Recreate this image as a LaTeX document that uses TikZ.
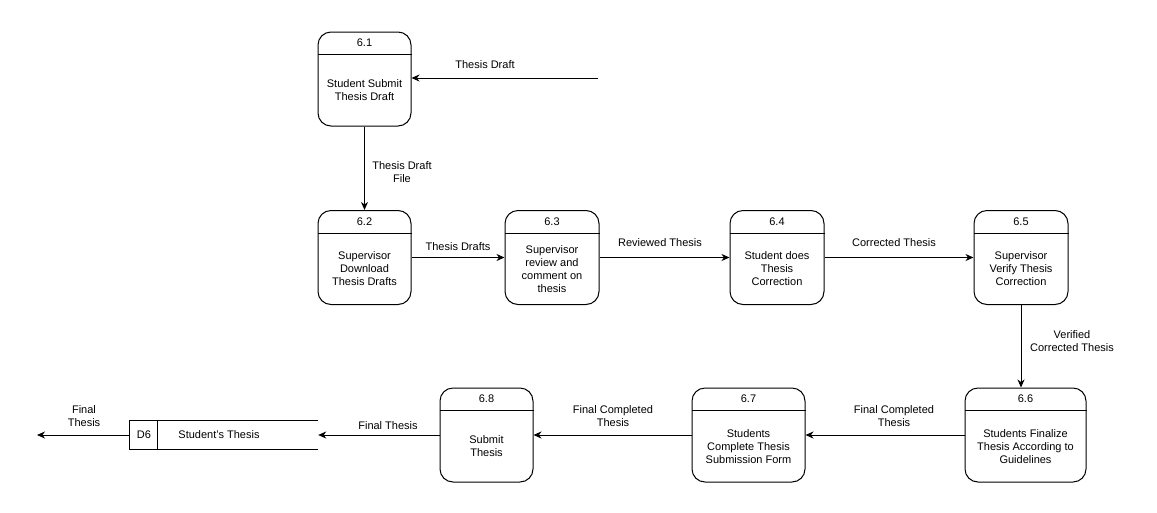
\documentclass[tikz,border=0pt]{standalone}
\usepackage{fontspec}
\setmainfont{Liberation Sans}
\usetikzlibrary{arrows.meta}

\tikzset{
    process/.style={draw, rectangle, rounded corners=13pt, line width=1pt, minimum height=94pt, inner sep=0pt},
    txt/.style={align=center, font=\fontsize{11}{13}\selectfont, inner sep=1pt},
    flow/.style={draw, line width=1pt, -{Stealth[length=8pt, width=7pt, inset=2.5pt]}}
}

\begin{document}
\begin{tikzpicture}[x=1pt, y=-1pt]

    \useasboundingbox (0, 0) rectangle (1157, 512);

    % Processes
    \foreach \id/\cx/\cy/\bw/\body in {
        1/364.5/79/93/{Student Submit\\Thesis Draft},
        2/364.5/257.5/93/{Supervisor\\Download\\Thesis Drafts},
        3/552/257.5/94/{Supervisor\\review and\\comment on\\thesis},
        4/777/257.5/94/{Student does\\Thesis\\Correction},
        5/1021/257.5/94/{Supervisor\\Verify Thesis\\Correction},
        6/1025.5/435/121/{Students Finalize\\Thesis According to\\Guidelines},
        7/748.5/435/113/{Students\\Complete Thesis\\Submission Form},
        8/486.5/435/93/{Submit\\Thesis}} {
        \node at (\cx, \cy) (p\id) [process, minimum width=\bw pt] {};
        \draw[line width=1pt] ([yshift=-23pt]p\id.north west) -- ([yshift=-23pt]p\id.north east);
        \node at ([yshift=-11.5pt]p\id.north) (p\id num) [txt] {6.\id};
        \node at ([yshift=-11.5pt]p\id.center) (p\id body) [txt] {\body};
    }

    % Data store
    \node at (224, 435) (d6) [minimum width=188pt, minimum height=28pt, inner sep=0pt] {};
    \node at (144, 435) (d6id) [txt] {D6};
    \node at (219, 435) (d6name) [txt] {Student's Thesis};
    \draw[line width=1pt] (d6.north east) -- (d6.north west) -- (d6.south west) -- (d6.south east);
    \draw[line width=1pt] ([xshift=28pt]d6.north west) -- ([xshift=28pt]d6.south west);

    % Free ends
    \coordinate (src) at (598, 78);
    \coordinate (sink) at (37, 435);

    % Arrows
    \draw[flow] (src) -- (src -| p1.east);
    \draw[flow] (p1) -- (p2);
    \draw[flow] (p2) -- (p3);
    \draw[flow] (p3) -- (p4);
    \draw[flow] (p4) -- (p5);
    \draw[flow] (p5.south) -- (p5.south |- p6.north);
    \draw[flow] (p6) -- (p7);
    \draw[flow] (p7) -- (p8);
    \draw[flow] (p8.west) -- (d6.east);
    \draw[flow] (d6.west) -- (sink);

    % Labels
    \node at (485, 65) (l1) [txt] {Thesis Draft};
    \node at (402, 172.5) (l2) [txt] {Thesis Draft\\File};
    \node at (458, 247) (l3) [txt] {Thesis Drafts};
    \node at (660, 243) (l4) [txt] {Reviewed Thesis};
    \node at (894, 243) (l5) [txt] {Corrected Thesis};
    \node at (1072, 341.5) (l6) [txt] {Verified\\Corrected Thesis};
    \node at (894, 416.5) (l7) [txt] {Final Completed\\Thesis};
    \node at (613, 416.5) (l8) [txt] {Final Completed\\Thesis};
    \node at (388, 426) (l9) [txt] {Final Thesis};
    \node at (84, 416.5) (l10) [txt] {Final\\Thesis};

\end{tikzpicture}
\end{document}
